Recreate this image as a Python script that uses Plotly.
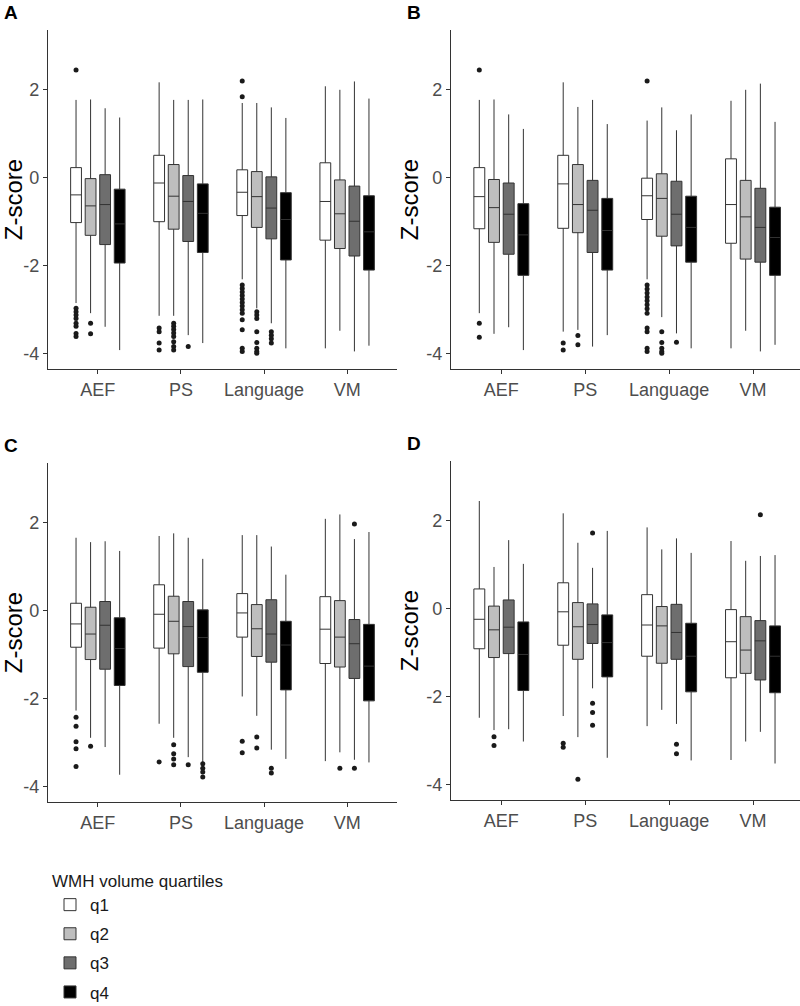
import plotly.graph_objects as go

CATEGORIES = ["AEF", "PS", "Language", "VM"]
QUARTILES = ["q1", "q2", "q3", "q4"]
FILLS = ["#ffffff", "#bebebe", "#6e6e6e", "#000000"]
PANELS = ["A", "B", "C", "D"]

# Each stat: rows = quartile (q1..q4), columns = category (AEF, PS, Language, VM)
A_LOW = [[-2.85, -3.14, -2.31, -3.88], [-3.08, -3.14, -2.97, -3.48], [-3.39, -3.58, -3.31, -3.95], [-3.92, -3.76, -3.88, -3.82]]
A_Q1 = [[-1.02, -1.00, -0.86, -1.42], [-1.31, -1.17, -1.13, -1.61], [-1.52, -1.45, -1.39, -1.78], [-1.94, -1.70, -1.87, -2.10]]
A_MED = [[-0.39, -0.12, -0.33, -0.54], [-0.64, -0.42, -0.43, -0.82], [-0.61, -0.54, -0.69, -0.99], [-1.05, -0.81, -0.95, -1.23]]
A_Q3 = [[0.23, 0.51, 0.18, 0.34], [-0.02, 0.30, 0.14, -0.05], [0.07, 0.05, 0.02, -0.19], [-0.26, -0.14, -0.34, -0.41]]
A_HIGH = [[1.77, 2.17, 1.70, 2.08], [1.78, 1.77, 1.70, 2.00], [1.58, 1.77, 1.60, 2.19], [1.37, 1.78, 1.36, 1.80]]
A_OUT = [
    [[2.45, -2.97, -3.05, -3.12, -3.20, -3.31, -3.38, -3.54, -3.61],
     [-3.42, -3.50, -3.76, -3.92],
     [2.20, 1.84, -2.44, -2.52, -2.60, -2.68, -2.76, -2.84, -2.92, -3.00, -3.08, -3.23, -3.46, -3.88, -3.95],
     []],
    [[-3.31, -3.55],
     [-3.31, -3.38, -3.45, -3.53, -3.61, -3.73, -3.84, -3.92],
     [-3.05, -3.12, -3.20, -3.50, -3.75, -3.88, -3.95, -3.99],
     []],
    [[], [-3.84], [-3.50, -3.58, -3.66, -3.76], []],
    [[], [], [], []],
]

B_LOW = [[-3.08, -3.50, -2.31, -3.88], [-3.55, -3.46, -3.17, -3.48], [-3.40, -3.84, -3.54, -3.95], [-3.92, -3.58, -3.88, -3.80]]
B_Q1 = [[-1.16, -1.15, -0.95, -1.49], [-1.47, -1.25, -1.33, -1.85], [-1.74, -1.70, -1.55, -1.92], [-2.22, -2.10, -1.92, -2.22]]
B_MED = [[-0.43, -0.14, -0.41, -0.61], [-0.68, -0.61, -0.47, -0.89], [-0.83, -0.74, -0.83, -1.13], [-1.30, -1.20, -1.13, -1.36]]
B_Q3 = [[0.23, 0.51, -0.01, 0.43], [-0.04, 0.30, 0.09, -0.06], [-0.12, -0.06, -0.08, -0.24], [-0.59, -0.47, -0.42, -0.67]]
B_HIGH = [[1.77, 2.17, 1.30, 1.75], [1.78, 1.61, 1.60, 2.00], [1.44, 1.77, 1.08, 2.14], [1.11, 1.22, 1.44, 1.27]]
B_OUT = [
    [[2.45, -3.31, -3.63],
     [-3.76, -3.92],
     [2.20, -2.44, -2.53, -2.62, -2.71, -2.80, -2.89, -2.98, -3.08, -3.42, -3.50, -3.88, -3.95],
     []],
    [[], [-3.59, -3.80], [-3.50, -3.75, -3.88, -3.95, -3.99], []],
    [[], [], [-3.74], []],
    [[], [], [], []],
]

C_LOW = [[-2.27, -2.57, -1.95, -3.42], [-2.89, -2.89, -2.39, -3.22], [-3.10, -3.33, -3.16, -3.39], [-3.73, -3.46, -3.37, -3.45]]
C_Q1 = [[-0.83, -0.85, -0.60, -1.20], [-1.11, -0.98, -1.04, -1.28], [-1.33, -1.27, -1.17, -1.54], [-1.70, -1.40, -1.80, -2.05]]
C_MED = [[-0.30, -0.08, -0.05, -0.42], [-0.53, -0.24, -0.41, -0.60], [-0.33, -0.36, -0.53, -0.75], [-0.86, -0.61, -0.78, -1.26]]
C_Q3 = [[0.17, 0.59, 0.39, 0.32], [0.08, 0.33, 0.14, 0.23], [0.21, 0.21, 0.25, -0.20], [-0.16, 0.02, -0.24, -0.31]]
C_HIGH = [[1.66, 1.70, 1.72, 2.09], [1.56, 1.76, 1.72, 2.19], [1.58, 1.66, 1.46, 1.63], [1.36, 1.18, 0.82, 1.79]]
C_OUT = [
    [[-2.42, -2.63, -2.98, -3.14, -3.54], [-3.44], [-2.97, -3.23], []],
    [[-3.08], [-3.05, -3.25, -3.37, -3.50], [-2.87, -3.12], [-3.58]],
    [[], [-3.50], [-3.58, -3.69], [1.97, -3.58]],
    [[], [-3.48, -3.58, -3.67, -3.78], [], []],
]

D_LOW = [[-2.48, -2.44, -2.67, -3.44], [-2.76, -2.92, -2.30, -3.02], [-2.74, -1.81, -2.62, -2.80], [-3.02, -3.39, -3.45, -3.52]]
D_Q1 = [[-0.91, -0.83, -1.08, -1.57], [-1.11, -1.15, -1.24, -1.47], [-1.02, -0.79, -1.15, -1.62], [-1.86, -1.55, -1.89, -1.91]]
D_MED = [[-0.24, -0.07, -0.37, -0.75], [-0.48, -0.41, -0.39, -0.94], [-0.42, -0.36, -0.54, -0.73], [-1.04, -0.77, -1.08, -1.08]]
D_Q3 = [[0.45, 0.59, 0.32, -0.02], [0.06, 0.14, 0.05, -0.18], [0.20, 0.11, 0.10, -0.27], [-0.30, -0.14, -0.33, -0.39]]
D_HIGH = [[2.45, 2.17, 1.85, 1.54], [0.95, 1.50, 1.35, 1.09], [1.56, 0.93, 1.60, 1.20], [1.02, 1.77, 1.27, 1.22]]
D_OUT = [
    [[], [-3.06, -3.15], [], []],
    [[-2.91, -3.11], [-3.88], [], []],
    [[], [1.72, -2.15, -2.36, -2.65], [-3.08, -3.30], [2.14]],
    [[], [], [], []],
]

PANEL_DATA = [
    (A_LOW, A_Q1, A_MED, A_Q3, A_HIGH, A_OUT),
    (B_LOW, B_Q1, B_MED, B_Q3, B_HIGH, B_OUT),
    (C_LOW, C_Q1, C_MED, C_Q3, C_HIGH, C_OUT),
    (D_LOW, D_Q1, D_MED, D_Q3, D_HIGH, D_OUT),
]

W, H = 800, 1006
# plot areas in pixels: (left, right, top, bottom)
AREAS = [(48, 397, 30, 369), (451, 800, 30, 369), (48, 397, 463, 802), (451, 800, 461, 800)]
XRANGES = [[-0.6, 3.6], [-0.6, 3.56], [-0.6, 3.6], [-0.6, 3.56]]
YRANGE = [-4.35, 3.36]
DODGE = 0.175
BOXW = 0.13
FONT = "Liberation Sans, Arial, sans-serif"

fig = go.Figure()

for p, (low, q1, med, q3, high, outs) in enumerate(PANEL_DATA):
    xa = "x" if p == 0 else f"x{p+1}"
    ya = "y" if p == 0 else f"y{p+1}"
    for qi, qname in enumerate(QUARTILES):
        off = (qi - 1.5) * DODGE
        xs = [ci + off for ci in range(len(CATEGORIES))]
        fig.add_trace(go.Box(
            x=xs, q1=q1[qi], median=med[qi], q3=q3[qi],
            lowerfence=low[qi], upperfence=high[qi],
            width=BOXW, whiskerwidth=0, boxpoints=False,
            fillcolor=FILLS[qi], line=dict(color="#333333", width=1),
            name=qname, legendgroup=qname, showlegend=(p == 0),
            xaxis=xa, yaxis=ya, hoverinfo="skip",
        ))
        ox, oy = [], []
        for ci in range(len(CATEGORIES)):
            for v in outs[qi][ci]:
                ox.append(ci + off)
                oy.append(v)
        if ox:
            fig.add_trace(go.Scatter(
                x=ox, y=oy, mode="markers",
                marker=dict(color="#1a1a1a", size=5),
                showlegend=False, xaxis=xa, yaxis=ya, hoverinfo="skip",
            ))

layout = dict(
    width=W, height=H, margin=dict(l=0, r=0, t=0, b=0, autoexpand=False),
    paper_bgcolor="white", plot_bgcolor="white",
    boxmode="overlay",
    font=dict(family=FONT, color="#4d4d4d", size=17),
    legend=dict(
        title=dict(text="WMH volume quartiles", font=dict(size=17, color="#1a1a1a")),
        font=dict(size=17, color="#1a1a1a"),
        x=50 / W, xanchor="left", y=1 - 865 / H, yanchor="top",
        tracegroupgap=4, bgcolor="rgba(0,0,0,0)",
    ),
)

annotations = []
for p, (l, r, t, b) in enumerate(AREAS):
    sfx = "" if p == 0 else str(p + 1)
    layout["xaxis" + sfx] = dict(
        domain=[l / W, r / W], range=XRANGES[p], anchor="y" + sfx,
        tickvals=list(range(len(CATEGORIES))), ticktext=CATEGORIES,
        showline=True, linecolor="#333333", linewidth=1.2,
        ticks="outside", ticklen=4, tickcolor="#333333",
        showgrid=False, zeroline=False, automargin=False,
        tickfont=dict(size=18, color="#4d4d4d"),
    )
    layout["yaxis" + sfx] = dict(
        domain=[1 - b / H, 1 - t / H], range=YRANGE, anchor="x" + sfx,
        tickvals=[-4, -2, 0, 2], ticktext=["-4", "-2", "0", "2"],
        showline=True, linecolor="#333333", linewidth=1.2,
        ticks="outside", ticklen=4, tickcolor="#333333",
        showgrid=False, zeroline=False, automargin=False,
        tickfont=dict(size=18, color="#4d4d4d"),
        title=dict(text="Z-score", font=dict(size=24, color="#000000"), standoff=0),
    )
    annotations.append(dict(
        text="<b>" + PANELS[p] + "</b>", x=(l - 46) / W, y=1 - (t - 30) / H,
        xref="paper", yref="paper", xanchor="left", yanchor="top",
        showarrow=False, font=dict(size=19, color="#000000", family=FONT),
    ))

layout["annotations"] = annotations
fig.update_layout(**layout)
fig.write_html("out.html", config={"displayModeBar": False},
               post_script="document.body.style.margin='0';")
